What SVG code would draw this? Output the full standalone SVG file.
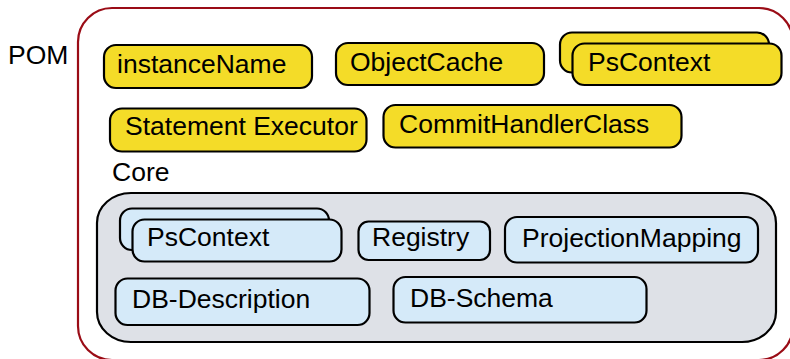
<svg xmlns="http://www.w3.org/2000/svg" width="790" height="359" viewBox="0 0 790 359">
<style>
text{font-family:"Liberation Sans",Arial,sans-serif;font-size:26.5px;fill:#000}
.y{fill:#f4dc28;stroke:#000;stroke-width:2.2}
.b{fill:#d5eaf9;stroke:#000;stroke-width:2.2}
</style>
<rect width="790" height="359" fill="#fff"/>
<g id="pom">
<rect x="78" y="8" width="715" height="352" rx="34" ry="34" fill="none" stroke="#9a0c16" stroke-width="2.2"/>
<text x="8" y="64">POM</text>
</g>
<g id="instanceName"><rect class="y" x="104" y="45" width="208" height="43" rx="12"/><text x="117" y="73">instanceName</text></g>
<g id="objectCache"><rect class="y" x="336" y="43" width="208" height="42" rx="12"/><text x="350" y="71">ObjectCache</text></g>
<g id="psContextTop"><rect class="y" x="560" y="32.5" width="209" height="40" rx="12"/><rect class="y" x="572.5" y="43.5" width="209" height="41.5" rx="12"/><text x="588" y="71">PsContext</text></g>
<g id="statementExecutor"><rect class="y" x="110" y="108.5" width="256.5" height="43" rx="12"/><text x="125" y="135">Statement Executor</text></g>
<g id="commitHandlerClass"><rect class="y" x="383.5" y="105" width="298" height="42.5" rx="12"/><text x="399" y="132.5">CommitHandlerClass</text></g>
<g id="core">
<text x="112" y="181">Core</text>
<rect x="97" y="193" width="679" height="149" rx="34" ry="30" fill="#dee1e7" stroke="#000" stroke-width="2.2"/>
</g>
<g id="psContextCore"><rect class="b" x="120" y="208.5" width="209" height="41.5" rx="12"/><rect class="b" x="132.5" y="219.5" width="209" height="42" rx="12"/><text x="147" y="246">PsContext</text></g>
<g id="registry"><rect class="b" x="358.5" y="221.5" width="131.5" height="38.5" rx="10"/><text x="372" y="246">Registry</text></g>
<g id="projectionMapping"><rect class="b" x="505" y="217" width="253" height="45.5" rx="12"/><text x="522" y="246.5">ProjectionMapping</text></g>
<g id="dbDescription"><rect class="b" x="115.5" y="278.5" width="254" height="46.5" rx="12"/><text x="132" y="308">DB-Description</text></g>
<g id="dbSchema"><rect class="b" x="393.5" y="277" width="253" height="45.5" rx="12"/><text x="410" y="306.5">DB-Schema</text></g>
<g id="connectors"/>
</svg>
